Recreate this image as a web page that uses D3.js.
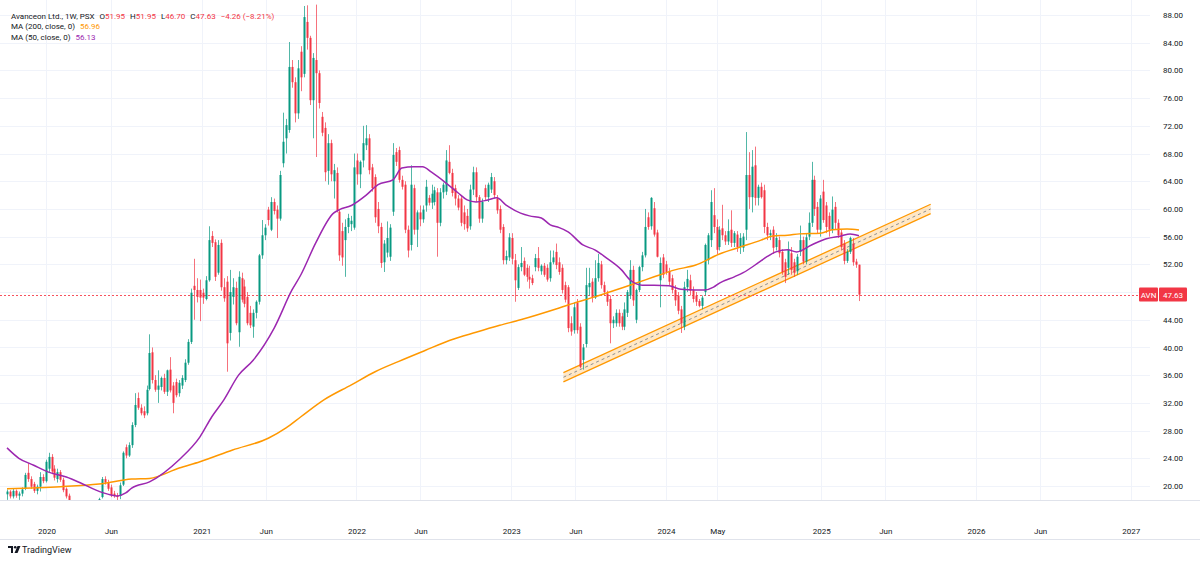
<!DOCTYPE html>
<html><head><meta charset="utf-8">
<script src="https://cdn.jsdelivr.net/npm/d3@7"></script>
<style>
html,body{margin:0;padding:0;background:#fff;}
svg{display:block;font-family:Roboto,"Noto Sans",sans-serif;}
</style></head><body>
<svg id="chart" width="1200" height="562"></svg>
<script>
// ---------------- DATA ----------------
const symbolName = "Avanceon Ltd., 1W, PSX";
const ticker = "AVN";
const firstBarDate = "2019-09-30"; // weekly bars, one per week from here
const opens = [18.8,19.2,18.5,19.3,18.6,18.9,19.6,21.9,21.0,20.3,19.3,19.9,21.3,20.7,22.5,24.2,22.5,21.0,22.0,20.9,19.6,18.6,17.3,15.8,14.0,12.0,13.2,14.6,14.0,15.6,16.8,16.4,18.4,21.0,20.5,19.8,18.9,18.6,18.6,20.2,25.6,24.4,25.9,28.8,32.7,31.3,30.8,30.5,34.0,39.3,35.3,33.9,34.3,35.6,33.6,36.8,34.5,35.0,33.4,34.5,35.3,37.8,40.8,48.9,48.3,48.3,47.9,47.0,49.7,56.1,55.2,50.8,55.1,48.7,49.5,42.1,47.3,48.6,42.2,50.0,48.8,47.3,45.0,43.0,45.0,46.6,53.3,56.2,59.9,57.0,61.0,59.9,58.6,66.6,70.2,71.4,80.5,78.3,73.8,82.7,79.5,87.0,84.7,75.7,81.5,79.6,73.3,71.7,65.5,69.5,64.0,65.2,59.6,56.8,55.5,57.4,57.8,57.3,67.0,65.0,67.0,69.2,70.2,66.0,64.6,60.0,57.4,52.3,53.7,53.1,59.6,68.2,68.5,64.2,63.5,57.0,54.8,63.0,57.0,59.5,58.5,60.5,61.6,60.9,61.0,62.4,58.0,62.4,62.5,66.8,65.2,63.0,61.5,61.5,59.5,59.0,57.5,62.8,65.3,61.7,58.6,63.0,61.7,62.8,64.0,61.5,60.0,57.4,52.6,53.0,55.8,52.6,48.6,51.6,52.5,51.5,50.2,50.0,51.6,52.9,51.0,51.8,51.5,50.0,52.3,53.8,52.3,51.5,49.0,48.7,43.5,42.5,46.5,43.0,38.2,40.5,48.7,49.5,47.2,50.0,52.0,49.0,47.8,47.0,43.5,43.5,45.0,44.5,43.0,45.0,47.5,51.2,44.0,48.3,51.6,53.3,58.8,57.5,60.1,56.6,49.7,53.0,52.0,51.0,50.0,48.3,47.5,45.5,43.0,48.7,49.7,48.3,47.5,46.7,46.0,48.0,52.6,55.5,59.1,57.4,54.5,57.2,56.2,55.3,57.0,55.1,56.3,54.5,54.4,57.0,64.9,61.7,66.3,61.6,63.2,62.7,57.4,56.2,57.0,54.5,55.5,53.8,52.3,51.5,53.6,52.3,51.0,53.8,55.5,52.4,56.0,58.0,64.2,60.3,57.0,62.5,60.5,59.0,57.0,60.3,58.0,56.6,55.0,52.5,53.8,55.0,52.4,51.95];
const highs = [19.5,19.4,19.6,19.5,19.2,19.8,21.9,23.3,21.4,20.6,20.2,22.0,21.7,23.8,24.8,24.6,23.0,22.5,22.3,21.2,19.8,18.9,17.6,16.2,14.5,13.8,15.0,15.2,16.0,17.2,17.5,18.3,21.3,21.4,20.9,20.2,19.3,19.0,20.5,25.0,26.0,26.3,29.2,33.4,33.5,31.8,31.5,34.5,41.9,40.0,36.0,36.7,35.8,36.2,36.8,38.6,35.0,35.5,35.3,36.0,38.3,41.2,48.5,52.8,50.0,49.8,48.5,50.3,57.5,56.8,55.6,55.5,55.6,50.0,50.3,51.2,50.0,49.5,51.0,50.8,49.8,48.0,46.0,45.5,46.8,53.5,58.4,57.8,60.3,61.7,61.5,60.5,65.5,73.9,73.0,84.1,81.5,79.0,81.5,83.5,89.3,89.4,85.0,82.5,89.5,80.0,74.0,72.5,70.8,70.0,66.5,66.0,60.0,58.0,58.5,59.3,59.0,68.0,68.0,67.0,72.0,72.1,70.8,66.5,65.0,61.0,58.0,55.5,58.2,57.8,69.5,68.8,69.0,64.8,64.0,57.6,66.3,63.5,59.8,60.5,60.5,64.2,62.0,63.5,63.2,63.0,63.0,63.8,68.5,69.2,65.8,63.5,62.0,62.0,60.5,60.0,63.5,66.1,66.0,62.0,61.5,63.5,63.8,65.2,64.6,62.0,60.5,57.8,54.0,56.5,56.5,53.5,52.0,54.5,53.0,52.0,51.8,50.5,53.5,54.5,52.0,52.2,52.0,54.0,54.0,55.0,53.0,52.0,49.5,49.0,44.5,46.5,47.0,43.5,40.5,51.5,51.5,50.0,52.6,53.5,52.5,49.5,48.2,47.5,44.5,45.5,45.5,45.0,46.5,48.3,52.6,51.8,48.5,51.8,53.8,60.0,59.5,61.7,61.0,57.0,53.0,53.5,52.5,51.5,50.5,49.0,48.0,46.0,49.5,51.2,50.5,48.8,48.0,47.0,47.5,55.0,56.5,62.7,63.0,58.5,57.5,60.6,56.8,58.5,59.8,56.8,56.8,56.5,56.5,71.1,68.2,68.5,69.0,63.5,63.8,63.5,58.0,57.0,57.5,56.5,56.0,54.2,52.8,55.3,54.5,52.8,53.5,57.6,56.0,56.5,59.5,66.8,64.8,61.0,62.0,64.2,61.0,59.5,61.8,61.0,58.5,57.0,55.5,54.2,56.0,55.8,52.8,51.95];
const lows = [18.0,18.2,18.2,18.3,18.0,18.5,19.4,20.6,19.6,19.0,18.8,19.2,20.4,20.5,22.0,21.7,20.8,20.5,20.6,19.1,18.2,17.0,15.5,13.5,11.5,11.2,12.8,13.6,13.8,15.2,16.0,16.2,18.2,20.2,19.3,18.4,18.3,17.8,18.1,20.0,24.0,24.2,25.5,28.5,31.0,30.2,29.8,30.2,33.8,34.8,33.6,32.0,33.8,33.3,33.0,33.5,30.5,32.8,32.9,34.0,35.0,37.5,40.5,44.0,46.5,43.8,46.3,46.8,49.5,54.5,49.6,50.5,48.2,46.6,36.5,41.0,46.2,43.2,40.1,46.5,45.8,43.2,42.8,41.4,44.2,46.2,52.8,55.5,57.6,56.8,59.2,55.8,58.3,66.0,68.0,71.0,77.5,72.5,73.0,77.0,79.0,83.0,75.0,70.2,67.5,74.5,70.5,64.0,63.5,64.0,61.5,59.5,52.5,51.8,50.2,56.5,56.8,57.0,63.5,63.0,66.0,68.5,65.0,62.5,58.0,56.5,51.5,50.9,53.0,52.5,59.0,66.2,63.8,62.8,56.5,53.0,54.0,56.3,54.5,57.5,58.0,59.6,60.5,60.0,60.5,53.1,57.5,61.5,62.0,65.0,61.8,60.5,59.8,57.5,57.0,56.7,57.0,62.0,61.0,58.0,58.0,61.3,61.0,62.3,61.5,59.3,56.5,52.0,52.0,52.5,52.0,46.6,48.3,51.0,50.3,49.5,48.5,49.0,51.0,51.0,50.5,50.2,49.5,49.5,52.0,51.3,50.5,47.8,46.5,42.2,41.7,42.0,42.0,37.0,36.8,40.0,47.5,46.5,47.0,49.5,48.5,47.5,46.0,40.6,42.8,43.0,43.0,42.5,42.5,44.4,47.0,46.0,43.5,48.0,51.0,53.0,57.0,57.0,56.0,53.0,45.8,50.0,50.5,49.0,47.8,46.0,44.8,42.1,42.5,48.0,47.5,46.5,46.0,45.8,45.5,47.5,52.0,54.5,56.5,53.5,54.0,55.5,54.8,54.8,54.5,54.5,53.8,53.5,53.8,55.5,60.0,59.5,60.5,60.5,61.5,56.5,55.5,55.5,53.5,54.0,53.0,50.5,49.3,50.5,50.5,50.2,50.5,53.2,52.0,52.0,55.5,57.4,59.0,56.5,56.0,58.0,56.5,56.0,56.5,57.0,55.8,54.0,52.0,52.2,53.5,51.8,51.5,46.70];
const closes = [19.2,18.5,19.3,18.6,18.9,19.5,21.6,21.0,19.9,19.3,19.9,21.3,20.7,23.5,24.2,22.1,21.2,22.0,20.9,19.4,18.5,17.3,15.8,14.0,12.0,13.2,14.6,14.0,15.6,16.8,16.4,18.1,21.0,20.5,19.6,18.7,18.6,18.4,20.1,24.8,24.4,25.9,28.8,31.7,31.3,30.5,30.2,33.9,39.2,35.3,33.9,34.5,35.6,33.6,36.7,33.8,32.0,33.1,34.9,35.6,37.8,40.8,47.9,48.3,47.3,47.2,47.2,49.7,55.5,55.1,50.2,54.8,48.7,47.1,40.6,48.0,48.7,43.5,50.2,46.9,46.3,43.5,43.2,45.0,46.6,53.3,56.2,57.3,58.4,61.0,59.7,58.6,64.9,69.7,72.1,80.5,78.3,73.8,80.3,79.0,87.7,84.7,75.7,81.8,79.6,75.3,71.0,65.3,69.5,65.0,65.6,59.8,53.3,53.0,57.4,58.7,58.3,66.0,65.0,66.8,69.5,70.2,65.6,63.0,58.8,57.5,52.2,55.0,55.8,57.3,67.8,66.8,64.2,63.2,57.0,54.0,63.5,57.0,59.5,58.5,59.9,63.2,60.9,62.2,62.7,58.0,62.4,63.5,67.0,65.2,62.3,61.5,60.2,58.0,57.8,57.2,62.8,65.3,61.7,58.6,61.0,61.7,63.5,64.6,62.0,59.8,57.0,52.6,53.2,55.9,52.8,49.7,51.6,52.2,50.5,50.2,49.8,49.3,52.9,51.5,51.8,50.5,49.8,52.3,53.0,51.9,50.9,48.3,46.9,42.8,42.3,45.8,42.5,37.2,40.0,49.0,49.3,47.2,50.0,52.2,49.0,48.0,46.6,43.5,44.0,45.0,43.5,43.0,45.5,48.0,51.2,46.8,48.3,51.6,53.3,57.4,57.4,61.6,56.3,53.1,52.2,50.5,50.9,49.5,48.3,46.8,45.3,43.5,48.7,49.9,48.2,47.0,46.6,46.0,47.2,54.8,56.2,61.0,57.4,54.1,57.0,56.2,55.3,56.8,55.1,56.5,54.5,55.8,56.0,64.9,61.7,66.1,61.6,63.2,61.7,57.4,56.2,56.5,54.4,55.8,53.6,50.9,50.2,54.1,51.2,50.8,53.1,55.5,52.4,55.9,58.0,64.2,60.0,57.0,61.5,58.4,57.4,57.0,59.9,58.0,56.2,54.5,52.5,53.8,55.8,52.3,51.95,47.63];

// Moving averages (bar number, value)
const ma50Bars   = [0,4,9,14,20,25,30,35,37,40,42,48,58,65,69,73,78,83,90,96,99,104,110,112,116,121,125,130,133,137,140,143,148,152,155,158,162,165,168,173,176,180,183,186,189,194,198,202,207,210,214,218,223,227,232,235,238,240,245,248,253,256,259,263,266,271,276,281,284,287];
const ma50Values = [25.5,24.0,23.0,22.0,21.3,20.4,19.4,18.7,18.55,19.0,19.7,20.6,23.8,27.1,30.0,32.4,36.0,38.2,42.8,48.3,50.5,55.1,59.4,59.9,60.5,62.0,63.5,64.2,65.9,66.1,66.1,65.3,63.7,62.3,61.3,61.0,61.3,61.6,60.6,59.4,59.0,58.7,57.7,57.3,56.7,54.8,54.1,52.9,51.2,49.7,49.0,49.0,48.9,48.4,48.3,48.3,48.7,49.3,50.2,50.8,52.2,53.1,53.8,54.1,53.8,54.8,55.7,56.1,56.4,56.13];
const ma200Bars   = [0,18,31,42,48,58,65,76,88,94,99,107,116,124,132,141,149,158,166,173,186,191,198,205,212,218,225,232,240,247,254,258,263,267,274,278,283,287];
const ma200Values = [19.6,19.9,20.3,21.0,21.1,22.6,23.5,25.2,26.9,28.4,30.0,32.5,34.6,36.5,38.0,39.6,41.0,42.2,43.2,44.0,45.7,46.4,47.3,48.3,49.3,50.2,51.2,51.9,53.5,54.5,55.5,56.1,56.2,56.4,56.5,57.0,57.1,56.96];

// Parallel channel (drawn trend band)
const channelDates = ["2023-05-04","2025-09-16"];
const channelUpper = [36.38,60.68];
const channelMid   = [35.70,60.00];
const channelLower = [35.02,59.32];

const timeTickDates  = ["2020-01-01","2020-06-01","2021-01-01","2021-06-01","2022-01-01","2022-06-01","2023-01-01","2023-06-01","2024-01-01","2024-05-01","2025-01-01","2025-06-01","2026-01-01","2026-06-01","2027-01-01"];
const timeTickLabels = ["2020","Jun","2021","Jun","2022","Jun","2023","Jun","2024","May","2025","Jun","2026","Jun","2027"];
const priceTicks = [20,24,28,32,36,40,44,48,52,56,60,64,68,72,76,80,84,88];

const legendOHLC = {O:"51.95",H:"51.95",L:"46.70",C:"47.63"};
const legendChange = "\u22124.26 (\u22128.21%)";
const ma200Label = "MA (200, close, 0)", ma200Last = "56.96";
const ma50Label  = "MA (50, close, 0)",  ma50Last  = "56.13";
const lastPrice = 47.63;

// ---------------- STYLE ----------------
const UP = "#089981", DOWN = "#f23645", GRID = "#f0f3fa", TXT = "#131722";
const ORANGE = "#ff9800", PURPLE = "#9c27b0";
const W = 1200, H = 562, paneRight = 1150, paneBottom = 500;

const svg = d3.select("#chart");
const parse = d3.utcParse("%Y-%m-%d");
const t0 = parse(firstBarDate);
const barDate = i => d3.utcWeek.offset(t0, i);
const nBars = closes.length;

const x = d3.scaleUtc().domain([t0, barDate(nBars - 1)]).range([7, 859]);
const y = d3.scaleLinear().domain([20, 88]).range([486, 15]);

svg.append("rect").attr("width", W).attr("height", H).attr("fill", "#fff");

svg.append("defs").append("clipPath").attr("id", "pane")
  .append("rect").attr("x", 0).attr("y", 0).attr("width", paneRight).attr("height", paneBottom);

// grid
const grid = svg.append("g");
grid.selectAll("line.v").data(timeTickDates).join("line")
  .attr("x1", d => Math.round(x(parse(d))) + 0.5).attr("x2", d => Math.round(x(parse(d))) + 0.5)
  .attr("y1", 0).attr("y2", paneBottom).attr("stroke", GRID);
grid.selectAll("line.h").data(priceTicks).join("line")
  .attr("x1", 0).attr("x2", paneRight)
  .attr("y1", d => Math.round(y(d)) + 0.5).attr("y2", d => Math.round(y(d)) + 0.5).attr("stroke", GRID);

const pane = svg.append("g").attr("clip-path", "url(#pane)");

// channel
const chPts = channelDates.map(parse);
const area = d3.area().x((d, i) => x(chPts[i])).y0((d, i) => y(channelLower[i])).y1((d, i) => y(channelUpper[i]));
pane.append("path").datum(channelMid).attr("d", area).attr("fill", ORANGE).attr("fill-opacity", 0.22);
const chLine = arr => d3.line().x((d, i) => x(chPts[i])).y(d => y(d))(arr);
pane.append("path").attr("d", chLine(channelUpper)).attr("stroke", ORANGE).attr("stroke-width", 1.3).attr("fill", "none");
pane.append("path").attr("d", chLine(channelLower)).attr("stroke", ORANGE).attr("stroke-width", 1.3).attr("fill", "none");
pane.append("path").attr("d", chLine(channelMid)).attr("stroke", "#8f8f8f").attr("stroke-width", 1)
  .attr("stroke-dasharray", "3,3").attr("fill", "none");

// price line
pane.append("path")
  .attr("d", `M0,${Math.round(y(lastPrice)) + 0.5}H1140`)
  .attr("stroke", "#f7525f").attr("stroke-dasharray", "2,2").attr("stroke-width", 1).attr("fill", "none");

// candles
const bars = d3.range(nBars).map(i => ({d: barDate(i), o: opens[i], h: highs[i], l: lows[i], c: closes[i]}));
const cg = pane.append("g");
cg.selectAll("line").data(bars).join("line")
  .attr("x1", d => Math.round(x(d.d)) + 0.5).attr("x2", d => Math.round(x(d.d)) + 0.5)
  .attr("y1", d => y(d.h)).attr("y2", d => y(d.l))
  .attr("stroke", d => d.c >= d.o ? UP : DOWN).attr("stroke-width", 1).attr("stroke-opacity", 0.7);
cg.selectAll("rect").data(bars).join("rect")
  .attr("x", d => Math.round(x(d.d)) - 0.5).attr("width", 2)
  .attr("y", d => y(Math.max(d.o, d.c)))
  .attr("height", d => Math.max(1, Math.abs(y(d.o) - y(d.c))))
  .attr("fill", d => d.c >= d.o ? UP : DOWN);

// MAs
const maLine = (bs, vs) => d3.line().curve(d3.curveMonotoneX)
  .x((d, i) => x(barDate(bs[i]))).y(d => y(d))(vs);
pane.append("path").attr("d", maLine(ma200Bars, ma200Values)).attr("stroke", ORANGE).attr("stroke-width", 1.5).attr("fill", "none");
pane.append("path").attr("d", maLine(ma50Bars, ma50Values)).attr("stroke", PURPLE).attr("stroke-width", 1.5).attr("fill", "none");

// borders of time axis
svg.append("line").attr("x1", 0).attr("x2", W).attr("y1", 500.5).attr("y2", 500.5).attr("stroke", "#e0e3eb");
svg.append("line").attr("x1", 0).attr("x2", W).attr("y1", 539.5).attr("y2", 539.5).attr("stroke", "#e0e3eb");

// time axis
const tScaleTicks = timeTickDates.map(parse);
const xAxis = d3.axisBottom(x).tickValues(tScaleTicks).tickSize(0).tickPadding(28)
  .tickFormat((d, i) => timeTickLabels[i]);
const gx = svg.append("g").attr("transform", `translate(0,${paneBottom})`).call(xAxis);
gx.select(".domain").remove();
gx.selectAll("text").attr("fill", TXT).attr("font-size", 8).attr("font-family", "Roboto,sans-serif");

// price axis (labels hidden where the last-price badge covers them)
const ly = y(lastPrice);
const yAxis = d3.axisRight(y).tickValues(priceTicks).tickSize(0).tickPadding(8)
  .tickFormat(d => Math.abs(y(d) - ly) < 12 ? "" : d3.format(".2f")(d));
const gy = svg.append("g").attr("transform", `translate(1155,0)`).call(yAxis);
gy.select(".domain").remove();
gy.selectAll("text").attr("fill", TXT).attr("font-size", 8).attr("font-family", "Roboto,sans-serif");

// last price label
svg.append("rect").attr("x", 1139).attr("y", ly - 7).attr("width", 19).attr("height", 14).attr("fill", DOWN).attr("rx", 1);
svg.append("rect").attr("x", 1159).attr("y", ly - 7).attr("width", 28).attr("height", 14).attr("fill", DOWN).attr("rx", 1);
svg.append("text").attr("x", 1148.5).attr("y", ly + 3).attr("text-anchor", "middle").attr("fill", "#fff").attr("font-size", 8).text(ticker);
svg.append("text").attr("x", 1173).attr("y", ly + 3).attr("text-anchor", "middle").attr("fill", "#fff").attr("font-size", 8).text(lastPrice.toFixed(2));

// legend
const lg = svg.append("g").attr("font-size", 8).attr("fill", TXT);
const l1 = lg.append("text").attr("x", 11).attr("y", 18.5);
l1.append("tspan").text(symbolName);
Object.entries(legendOHLC).forEach(([k, v]) => {
  l1.append("tspan").attr("dx", 5).text(k);
  l1.append("tspan").attr("fill", DOWN).text(v);
});
l1.append("tspan").attr("dx", 5).attr("fill", DOWN).text(legendChange);
const l2 = lg.append("text").attr("x", 11).attr("y", 29.2);
l2.append("tspan").text(ma200Label);
l2.append("tspan").attr("dx", 5).attr("fill", ORANGE).text(ma200Last);
const l3 = lg.append("text").attr("x", 11).attr("y", 39.7);
l3.append("tspan").text(ma50Label);
l3.append("tspan").attr("dx", 5).attr("fill", PURPLE).text(ma50Last);

// TradingView logo
const logo = svg.append("g").attr("transform", "translate(8,546)").attr("fill", TXT);
logo.append("path").attr("d", "M0,0 H5 V7 H3 V2 H0 Z");
logo.append("circle").attr("cx", 7.2).attr("cy", 1.3).attr("r", 1.3);
logo.append("path").attr("d", "M9.5,0 H12.5 L9.5,7 H6.5 Z");
svg.append("text").attr("x", 22).attr("y", 553).attr("font-size", 9).attr("fill", TXT).text("TradingView");
</script>
</body></html>
